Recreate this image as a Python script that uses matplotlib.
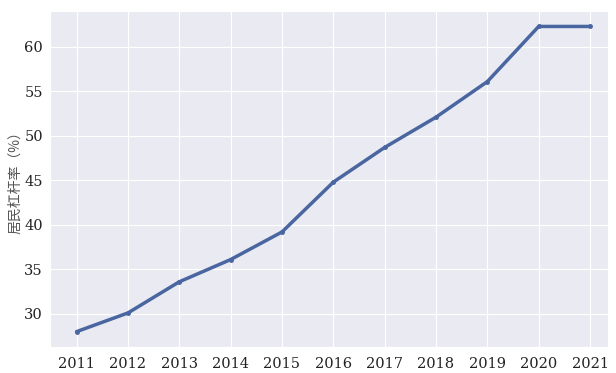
#!/usr/bin/env python3
"""Household leverage ratio, 2011-2021."""

import matplotlib
matplotlib.use("Agg")
import matplotlib.pyplot as plt
import seaborn as sns

years = [2011, 2012, 2013, 2014, 2015, 2016, 2017, 2018, 2019, 2020, 2021]
leverage = [28.0, 30.1, 33.6, 36.1, 39.2, 44.8, 48.7, 52.1, 56.1, 62.3, 62.3]


def main() -> None:
    sns.set_style("darkgrid")
    plt.rcParams["font.family"] = ["DejaVu Serif", "Noto Sans CJK SC"]

    fig, ax = plt.subplots(figsize=(6.16, 3.73), dpi=100)
    ax.plot(years, leverage, color="#4a66a0", linewidth=2.5, marker="o", markersize=2.5)
    ax.set_xticks(years)
    ax.set_xlim(years[0] - 0.52, years[-1] + 0.35)
    ax.tick_params(labelsize=10.5, colors="#222222")
    ax.tick_params(axis="y", length=0, pad=5)
    ax.set_ylabel("居民杠杆率（%）", family=["Noto Sans CJK SC", "DejaVu Sans"],
                  fontsize=10, color="#555555")
    ax.yaxis.set_label_coords(-0.05, 0.5)
    fig.subplots_adjust(left=0.081, right=0.987, top=0.97, bottom=0.07)
    fig.savefig("out.png", dpi=100)


if __name__ == "__main__":
    main()
